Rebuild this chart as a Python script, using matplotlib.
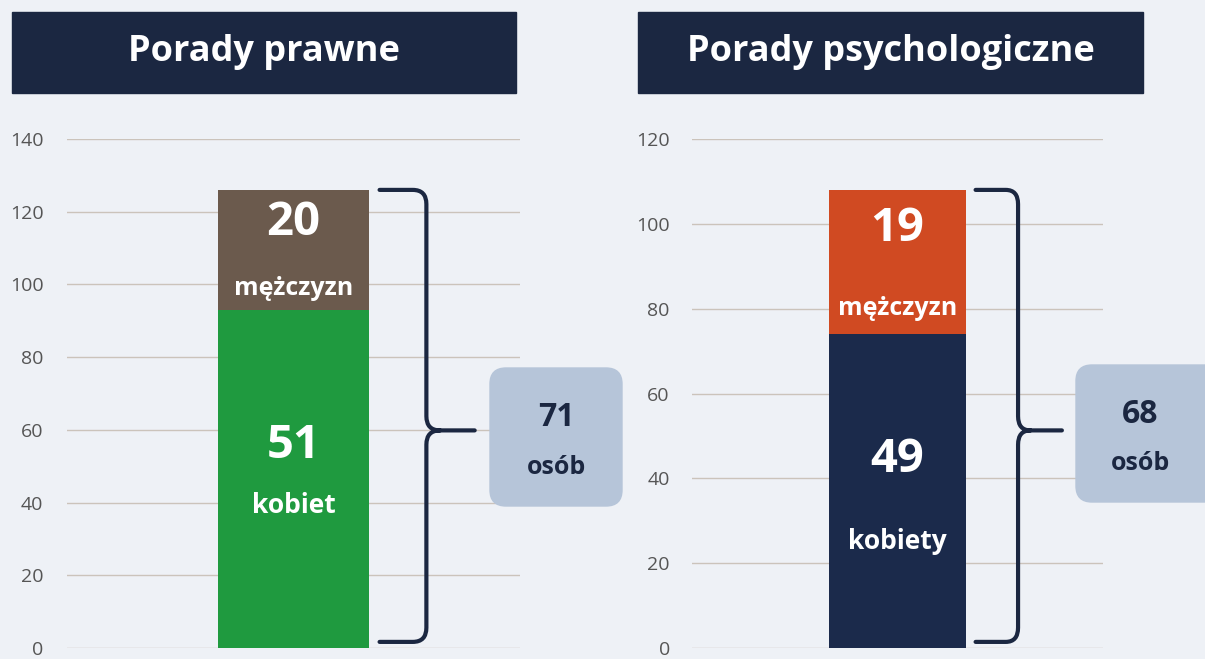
import matplotlib.pyplot as plt
from matplotlib.patches import FancyBboxPatch, PathPatch, Rectangle
from matplotlib.path import Path

# data
titles = ["Porady prawne", "Porady psychologiczne"]
women_bar = [93, 74]
men_bar = [33, 34]
women_count = [51, 49]
men_count = [20, 19]
women_word = ["kobiet", "kobiety"]
men_word = ["mężczyzn", "mężczyzn"]
total_count = [71, 68]
y_max = [140, 120]

women_colors = ["#1f9a3f", "#1b2a4b"]
men_colors = ["#6b5a4d", "#d04a22"]

W, H = 1205, 659
BG = "#eef1f6"
NAVY = "#1b2741"
BOX = "#b6c5d9"

# layout in reference pixels (x0, y0, x1, y1), origin top-left
axes_px = [(67, 139, 520, 648), (692, 139, 1103, 648)]
banner_px = [(12, 12, 516, 93), (638, 12, 1143, 93)]
box_px = [(490, 368, 622, 506), (1076, 365, 1225, 502)]
tick_pad = [17, 16]
women_word_frac = [0.42, 0.34]

plt.rcParams["font.family"] = ["Open Sans", "DejaVu Sans"]

fig = plt.figure(figsize=(W / 100, H / 100), dpi=100, facecolor=BG)


def fig_frac(box):
    x0, y0, x1, y1 = box
    return [x0 / W, 1 - y1 / H, (x1 - x0) / W, (y1 - y0) / H]


def inch_xy(x, y):
    return x / 100, (H - y) / 100


def draw_brace(ax, top, ymax):
    x0, x1, xt = 0.57, 0.88, 1.2
    rx, ry = 0.09, 0.028 * ymax
    y0, y1, ym = 0.012 * ymax, top, 0.475 * top
    verts = [(x0, y1), (x1 - rx, y1), (x1, y1), (x1, y1 - ry), (x1, ym + ry),
             (x1, ym), (x1 + rx, ym), (xt, ym),
             (x1 + rx, ym), (x1, ym), (x1, ym - ry), (x1, y0 + ry),
             (x1, y0), (x1 - rx, y0), (x0, y0)]
    codes = [Path.MOVETO, Path.LINETO, Path.CURVE3, Path.CURVE3, Path.LINETO,
             Path.CURVE3, Path.CURVE3, Path.LINETO,
             Path.MOVETO, Path.CURVE3, Path.CURVE3, Path.LINETO,
             Path.CURVE3, Path.CURVE3, Path.LINETO]
    ax.add_patch(PathPatch(Path(verts, codes), fill=False, lw=3, ec=NAVY,
                           clip_on=False, capstyle="round", joinstyle="round"))


for i in range(2):
    ax = fig.add_axes(fig_frac(axes_px[i]))
    ax.patch.set_alpha(0)
    ax.set_xlim(-1.5, 1.5)
    ax.set_ylim(0, y_max[i])
    ax.set_yticks(range(0, y_max[i] + 1, 20))
    ax.set_xticks([])
    ax.tick_params(axis="y", length=0, pad=tick_pad[i], labelsize=14, labelcolor="#555555")
    for s in ax.spines.values():
        s.set_visible(False)
    ax.grid(axis="y", color="#cbc3bb", lw=1)
    ax.set_axisbelow(True)

    ax.bar(0, women_bar[i], width=1.0, color=women_colors[i], zorder=2)
    ax.bar(0, men_bar[i], width=1.0, bottom=women_bar[i], color=men_colors[i], zorder=2)

    wb, mb = women_bar[i], men_bar[i]
    ax.text(0, wb + 0.73 * mb, str(men_count[i]), color="white", fontsize=34,
            fontweight="bold", ha="center", va="center", zorder=3)
    ax.text(0, wb + 0.18 * mb, men_word[i], color="white", fontsize=18,
            fontweight="bold", ha="center", va="center", zorder=3)
    ax.text(0, 0.6 * wb, str(women_count[i]), color="white", fontsize=34,
            fontweight="bold", ha="center", va="center", zorder=3)
    ax.text(0, women_word_frac[i] * wb, women_word[i], color="white", fontsize=19,
            fontweight="bold", ha="center", va="center", zorder=3)

    draw_brace(ax, wb + mb, y_max[i])

    # title banner
    bx0, by0, bx1, by1 = banner_px[i]
    fig.patches.append(Rectangle(inch_xy(bx0, by1), (bx1 - bx0) / 100, (by1 - by0) / 100,
                                 transform=fig.dpi_scale_trans, color=NAVY))
    cx, cy = inch_xy((bx0 + bx1) / 2, (by0 + by1) / 2)
    fig.text(cx / (W / 100), cy / (H / 100), titles[i], color="white", fontsize=26,
             fontweight="bold", ha="center", va="center")

    # total box
    qx0, qy0, qx1, qy1 = box_px[i]
    fig.patches.append(FancyBboxPatch(inch_xy(qx0, qy1), (qx1 - qx0) / 100, (qy1 - qy0) / 100,
                                      boxstyle="round,pad=0,rounding_size=0.16",
                                      transform=fig.dpi_scale_trans, color=BOX, zorder=1))
    tx = (qx0 + qx1) / 2 if i == 0 else 1140
    fig.text(tx / W, 1 - (qy0 + 0.36 * (qy1 - qy0)) / H, str(total_count[i]), color=NAVY,
             fontsize=23, fontweight="bold", ha="center", va="center")
    fig.text(tx / W, 1 - (qy0 + 0.72 * (qy1 - qy0)) / H, "osób", color=NAVY,
             fontsize=18, fontweight="bold", ha="center", va="center")

fig.savefig("out.png", dpi=100, facecolor=BG)
